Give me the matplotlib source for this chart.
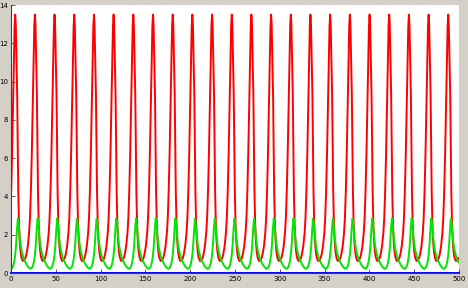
import matplotlib
matplotlib.use("Agg")
import matplotlib.pyplot as plt
import numpy as np

# times of the red peaks
red_peaks = [4.7, 26.7, 48.6, 70.6, 92.6, 114.5, 136.5, 158.5, 180.5, 202.4,
             224.4, 246.4, 268.3, 290.3, 312.3, 334.2, 356.2, 378.2, 400.2,
             422.1, 444.1, 466.1, 488.0]

# one cycle, sampled around a red peak (offset from the peak, value)
cycle_offsets = [-10.5, -9.5, -8.0, -6.5, -5.5, -4.5, -3.5, -2.5, -1.5, -0.7,
                 0.0, 0.6, 1.2, 2.2, 2.8, 3.4, 4.2, 5.0, 6.0, 7.0, 8.5, 10.0, 11.4]
red_cycle = [0.80, 0.98, 1.40, 2.10, 2.90, 4.30, 6.20, 8.60, 11.2, 12.9,
             13.5, 13.0, 11.6, 9.30, 6.60, 4.30, 2.60, 1.70, 1.10, 0.80, 0.63, 0.66, 0.78]

green_offsets = [-10.5, -9.0, -7.5, -6.0, -5.0, -4.0, -3.0, -2.0, -1.0, 0.0,
                 1.0, 2.0, 3.0, 4.0, 5.0, 6.0, 7.0, 8.0, 9.0, 10.0, 11.4]
green_cycle = [0.55, 0.42, 0.32, 0.25, 0.22, 0.24, 0.30, 0.42, 0.62, 0.95,
               1.50, 2.30, 2.85, 2.45, 1.90, 1.50, 1.20, 1.00, 0.82, 0.70, 0.56]

blue_t = [0, 500]
blue_vals = [0, 0]

x_ticks = [0, 50, 100, 150, 200, 250, 300, 350, 400, 450, 500]
y_ticks = [0, 2, 4, 6, 8, 10, 12, 14]


def series(peaks, offsets, values):
    t = np.concatenate([p + np.asarray(offsets) for p in peaks])
    v = np.tile(values, len(peaks))
    return t, v


red_t, red_v = series(red_peaks, cycle_offsets, red_cycle)
green_t, green_v = series(red_peaks, green_offsets, green_cycle)

fig = plt.figure(figsize=(4.68, 2.88), dpi=100)
fig.patch.set_facecolor("#d4d0c8")
ax = fig.add_axes([11 / 468, 15 / 288, 448 / 468, 268 / 288])
ax.set_facecolor("white")

ax.plot(red_t, red_v, color="#ff0000", linewidth=1.4)
ax.plot(green_t, green_v, color="#00e600", linewidth=1.4)
ax.plot(blue_t, blue_vals, color="#0000ff", linewidth=1.4, clip_on=False)

ax.set_xlim(0, 500)
ax.set_ylim(0, 14)
ax.set_xticks(x_ticks)
ax.set_yticks(y_ticks)
ax.tick_params(direction="in", length=3, width=0.6, color="#404040",
               labelsize=5, pad=2)

for side in ("top", "right"):
    ax.spines[side].set_visible(False)
ax.spines["left"].set_color("#404040")
ax.spines["bottom"].set_color("#404040")

fig.savefig("out.png", dpi=100, facecolor=fig.get_facecolor())
